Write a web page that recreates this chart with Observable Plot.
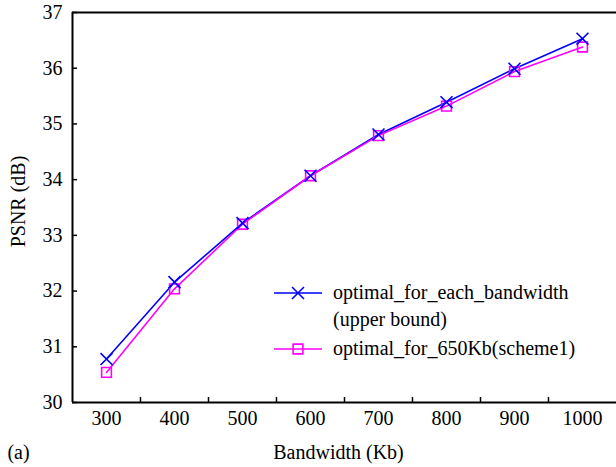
<!DOCTYPE html>
<html>
<head>
<meta charset="utf-8">
<script src="https://cdn.jsdelivr.net/npm/d3@7"></script>
<script src="https://cdn.jsdelivr.net/npm/@observablehq/plot@0.6"></script>
<style>
  html, body { margin: 0; padding: 0; background: #fff; }
  #chart { position: relative; width: 616px; height: 467px; }
  #chart svg, #chart svg text { font-family: "Liberation Serif", "Times New Roman", Tinos, Times, serif !important; }
</style>
</head>
<body>
<div id="chart"></div>
<script>
const bandwidth = [300, 400, 500, 600, 700, 800, 900, 1000];
const upperBound = [30.78, 32.16, 33.22, 34.07, 34.81, 35.39, 35.99, 36.53];
const scheme1 = [30.54, 32.04, 33.20, 34.07, 34.79, 35.32, 35.94, 36.38];
const xTickLabels = bandwidth;
const xTickMarks = [350, 450, 550, 650, 750, 850, 950];
const yTicks = [30, 31, 32, 33, 34, 35, 36, 37];
const seriesNames = ["optimal_for_each_bandwidth", "(upper bound)", "optimal_for_650Kb(scheme1)"];
const blue = "#0000ff", magenta = "#ff00ff";

const rowsA = bandwidth.map((b, i) => ({x: b, y: upperBound[i]}));
const rowsB = bandwidth.map((b, i) => ({x: b, y: scheme1[i]}));

const font = "'Liberation Serif', 'Times New Roman', Tinos, Times, serif";

function render() {
  const plot = Plot.plot({
    width: 616,
    height: 467,
    marginLeft: 72,
    marginRight: 0,
    marginTop: 12,
    marginBottom: 65,
    style: {fontFamily: font, fontSize: "20px", background: "#fff", color: "#000"},
    x: {domain: [250, 1050]},
    y: {domain: [30, 37]},
    marks: [
      Plot.axisX({ticks: xTickLabels, tickSize: 0, tickPadding: 8, tickFormat: d => String(d), label: null, fontSize: 20, fontFamily: font}),
      Plot.axisY({ticks: yTicks, tickSize: 0, tickPadding: 10, tickFormat: d => String(d), label: null, fontSize: 20, fontFamily: font}),
      Plot.tickX(xTickMarks, {x: d => d, insetTop: 385, stroke: "#000", strokeWidth: 1.5}),
      Plot.tickY(yTicks, {y: d => d, insetRight: 539, stroke: "#000", strokeWidth: 1.5}),
      Plot.ruleX([250], {stroke: "#000", strokeWidth: 2}),
      Plot.ruleY([30, 37], {stroke: "#000", strokeWidth: 2}),
      Plot.line(rowsA, {x: "x", y: "y", stroke: blue, strokeWidth: 1.6}),
      Plot.line(rowsB, {x: "x", y: "y", stroke: magenta, strokeWidth: 1.6}),
      Plot.dot(rowsB, {x: "x", y: "y", symbol: "square", r: 5.5, fill: "none", stroke: magenta, strokeWidth: 1.6}),
      Plot.dot(rowsA, {x: "x", y: "y", symbol: "times", r: 5.5, fill: "none", stroke: blue, strokeWidth: 1.6}),
      Plot.text(["Bandwidth (Kb)"], {frameAnchor: "bottom", dx: -6, dy: 50, text: d => d, textAnchor: "middle", lineAnchor: "middle", fontSize: 20, fontFamily: font}),
      Plot.text(["PSNR (dB)"], {frameAnchor: "left", dx: -54, dy: -6, rotate: -90, text: d => d, textAnchor: "middle", lineAnchor: "middle", fontSize: 20, fontFamily: font}),
      Plot.text(["(a)"], {frameAnchor: "bottom-left", dx: -54, dy: 50, text: d => d, textAnchor: "middle", lineAnchor: "middle", fontSize: 20, fontFamily: font})
    ]
  });

  // Legend drawn into the same SVG
  const svg = d3.select(plot);
  const lg = svg.append("g").attr("font-size", 20).attr("font-family", font).attr("text-anchor", "start");
  const legendItems = [
    {y: 293, color: blue, symbol: d3.symbolTimes, text: seriesNames[0]},
    {y: 320, color: null, symbol: null, text: seriesNames[1]},
    {y: 349, color: magenta, symbol: d3.symbolSquare, text: seriesNames[2]}
  ];
  const r = 5.5, size = Math.PI * r * r;
  legendItems.forEach(it => {
    if (it.color) {
      lg.append("line").attr("x1", 274).attr("x2", 322).attr("y1", it.y).attr("y2", it.y)
        .attr("stroke", it.color).attr("stroke-width", 1.6);
      lg.append("path").attr("d", d3.symbol(it.symbol, size)())
        .attr("transform", `translate(298,${it.y})`)
        .attr("fill", "none").attr("stroke", it.color).attr("stroke-width", 1.6);
    }
    lg.append("text").attr("x", 333).attr("y", it.y).attr("dy", "0.32em")
      .attr("text-anchor", "start").attr("fill", "#000").text(it.text);
  });

  const host = document.getElementById("chart");
  host.replaceChildren(plot);
}

render();
if (document.fonts && document.fonts.load) {
  document.fonts.load("20px 'Liberation Serif'").then(render).catch(() => {});
}
</script>
</body>
</html>
